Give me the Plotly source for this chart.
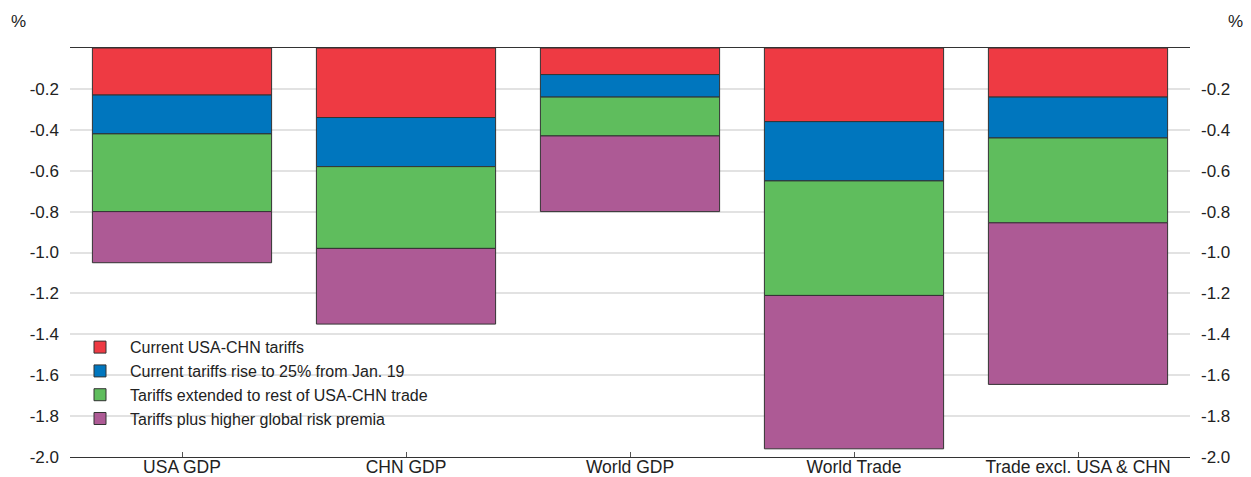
import plotly.graph_objects as go

categories = ["USA GDP", "CHN GDP", "World GDP", "World Trade", "Trade excl. USA & CHN"]
series_names = [
    "Current USA-CHN tariffs",
    "Current tariffs rise to 25% from Jan. 19",
    "Tariffs extended to rest of USA-CHN trade",
    "Tariffs plus higher global risk premia",
]
current_tariffs = [-0.23, -0.34, -0.13, -0.36, -0.24]
rise_to_25 = [-0.19, -0.24, -0.11, -0.29, -0.20]
extended = [-0.38, -0.40, -0.19, -0.56, -0.415]
risk_premia = [-0.25, -0.37, -0.37, -0.75, -0.79]
tick_vals = [-0.2, -0.4, -0.6, -0.8, -1.0, -1.2, -1.4, -1.6, -1.8, -2.0]
tick_text = ["-0.2", "-0.4", "-0.6", "-0.8", "-1.0", "-1.2", "-1.4", "-1.6", "-1.8", "-2.0"]

colors = ["#EE3A43", "#0076BE", "#5FBD5D", "#AD5A95"]
values = [current_tariffs, rise_to_25, extended, risk_premia]

fig = go.Figure()
for name, vals, col in zip(series_names, values, colors):
    fig.add_trace(go.Bar(
        x=categories, y=vals, name=name,
        marker=dict(color=col, line=dict(color="#333333", width=1)),
        width=0.8,
    ))

# invisible trace for right axis
fig.add_trace(go.Scatter(x=categories, y=[None]*5, yaxis="y2", showlegend=False,
                         hoverinfo="skip", mode="markers"))

font_family = "Liberation Sans, Arial, sans-serif"
fig.update_layout(
    barmode="relative",
    width=1243, height=469,
    margin=dict(l=62, r=61, t=40, b=20, autoexpand=False),
    plot_bgcolor="white", paper_bgcolor="white",
    font=dict(family=font_family, size=17, color="#222222"),
    showlegend=True,
    legend=dict(
        x=0.0, y=0.31, xanchor="left", yanchor="top",
        bgcolor="rgba(0,0,0,0)", font=dict(size=16, color="#222222"),
        traceorder="normal", tracegroupgap=0, itemwidth=50,
    ),
    xaxis=dict(
        showline=True, linecolor="#333333", linewidth=1, mirror=True,
        ticks="inside", ticklen=5, tickcolor="#555555", ticklabelstandoff=-6,
        showgrid=False, tickfont=dict(size=17.5), automargin=False,
    ),
    yaxis=dict(
        range=[-2.0, 0], tickvals=tick_vals, ticktext=tick_text,
        showgrid=True, gridcolor="#e2e2e2", gridwidth=1.5,
        zeroline=False, showline=False, ticks="", ticklabelstandoff=10,
        tickfont=dict(size=17), automargin=False,
    ),
    yaxis2=dict(
        range=[-2.0, 0], tickvals=tick_vals, ticktext=tick_text,
        overlaying="y", side="right", showgrid=False, zeroline=False,
        showline=False, ticks="", ticklabelstandoff=10,
        tickfont=dict(size=17), automargin=False,
    ),
)
fig.add_annotation(text="%", xref="paper", yref="paper", x=-0.0464, y=1.0636,
                   xanchor="center", yanchor="middle", showarrow=False, font=dict(size=17))
fig.add_annotation(text="%", xref="paper", yref="paper", x=1.041, y=1.0636,
                   xanchor="center", yanchor="middle", showarrow=False, font=dict(size=17))

fig.write_html("out.html")
